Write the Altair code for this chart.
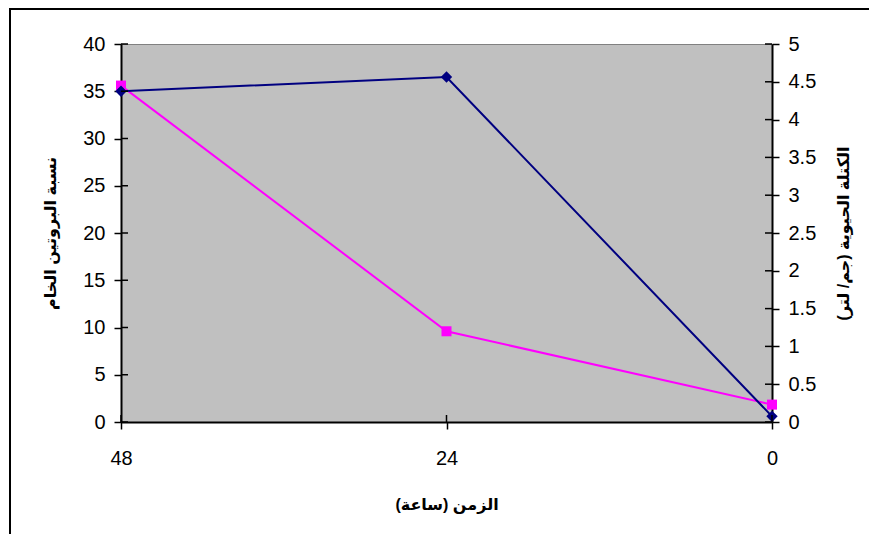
import altair as alt
import pandas as pd

# ---- data ----
time_h = [48, 24, 0]
protein = [35.0, 36.5, 0.6]          # left axis, navy diamonds
biomass = [4.45, 1.2, 0.23]          # right axis, magenta squares
left_ticks = [0, 5, 10, 15, 20, 25, 30, 35, 40]
right_ticks = [0, 0.5, 1, 1.5, 2, 2.5, 3, 3.5, 4, 4.5, 5]
x_ticks = [48, 24, 0]

x_title = "الزمن (ساعة)"
left_title = "نسبة البروتين الخام"
right_title = "الكتلة الحيوية (جم/ لتر)"

W, H = 651, 378
LABEL_FONT = "Liberation Sans, Arial, sans-serif"
TITLE_FONT = "Liberation Sans, DejaVu Sans, sans-serif"

df_p = pd.DataFrame({"t": time_h, "v": protein})
df_b = pd.DataFrame({"t": time_h, "v": biomass})
df_lt = pd.DataFrame({"v": left_ticks})
df_rt = pd.DataFrame({"v": right_ticks})
df_xt = pd.DataFrame({"t": x_ticks})

xs = alt.Scale(domain=[48, 0], nice=False, zero=False)
ys_l = alt.Scale(domain=[0, 40], nice=False)
ys_r = alt.Scale(domain=[0, 5], nice=False)

x_axis = alt.Axis(values=x_ticks, title=x_title, grid=False, tickSize=7,
                  labelPadding=19, titleY=82, titleBaseline="middle",
                  titleAlign="center", labelFlush=False, format="d")
yl_axis = alt.Axis(values=left_ticks, title=left_title, orient="left", grid=False,
                   tickSize=7, labelPadding=9, titleAngle=-90, titleX=-71,
                   titleY=H / 2, titleAlign="center", titleBaseline="middle",
                   format="d")
yr_axis = alt.Axis(values=right_ticks, title=right_title, orient="right", grid=False,
                   tickSize=7, labelPadding=9, titleAngle=-90, titleX=71,
                   titleY=H / 2, titleAlign="center", titleBaseline="middle",
                   format="~g")

X = alt.X("t:Q", scale=xs, axis=x_axis)
YL = alt.Y("v:Q", scale=ys_l, axis=yl_axis)
YR = alt.Y("v:Q", scale=ys_r, axis=yr_axis)

frame = alt.Chart(pd.DataFrame({"a": [0]})).mark_rect(
    fillOpacity=0, stroke="black", strokeWidth=2
).encode(x=alt.value(-111), x2=alt.value(W + 120), y=alt.value(-35), y2=alt.value(H + 130))

# right-axis layer (magenta, drawn first)
b_line = alt.Chart(df_b).mark_line(color="#FF00FF", strokeWidth=2).encode(x=X, y=YR)
b_pts = alt.Chart(df_b).mark_point(shape="square", filled=True, color="#FF00FF",
                                   size=100, opacity=1).encode(x=X, y=YR)
r_ticks = alt.Chart(df_rt).mark_rule(color="black", strokeWidth=1.5).encode(
    y=YR, x=alt.value(W - 7), x2=alt.value(W))
right_layer = alt.layer(frame, b_line, b_pts, r_ticks)

# left-axis layer (navy)
p_line = alt.Chart(df_p).mark_line(color="#000080", strokeWidth=2).encode(x=X, y=YL)
p_pts = alt.Chart(df_p).mark_point(shape="diamond", filled=True, color="#000080",
                                   size=130, opacity=1).encode(x=X, y=YL)
l_ticks = alt.Chart(df_lt).mark_rule(color="black", strokeWidth=1.5).encode(
    y=YL, x=alt.value(0), x2=alt.value(7))
x_in_ticks = alt.Chart(df_xt).mark_rule(color="black", strokeWidth=1.5).encode(
    x=X, y=alt.value(H - 7), y2=alt.value(H))
left_layer = alt.layer(p_line, p_pts, l_ticks, x_in_ticks)

chart = alt.layer(right_layer, left_layer).resolve_scale(y="independent").properties(
    width=W, height=H,
    autosize=alt.AutoSizeParams(type="none"),
    padding={"left": 113, "top": 36, "right": 97, "bottom": 112},
    background="white",
).configure_view(
    fill="#C0C0C0", stroke="#808080", strokeWidth=1
).configure_axis(
    domainColor="black", domainWidth=2, tickColor="black", tickWidth=1.5,
    labelFont=LABEL_FONT, labelFontSize=20, labelColor="black",
    titleFont=TITLE_FONT, titleFontSize=16, titleFontWeight="bold", titleColor="black",
)

chart.save("out.html", embed_options={"renderer": "svg", "actions": False})
